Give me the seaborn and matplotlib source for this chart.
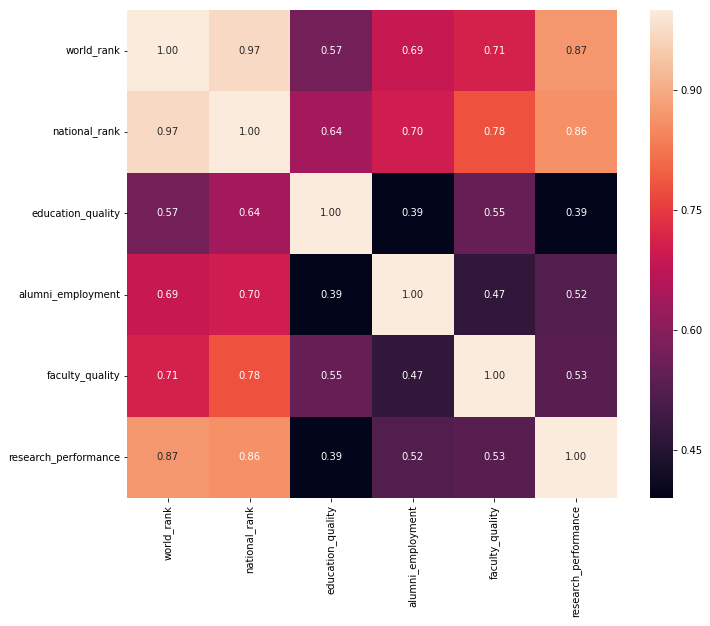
import matplotlib
matplotlib.use("Agg")
import matplotlib.pyplot as plt
import seaborn as sns
import pandas as pd

labels = ["world_rank", "national_rank", "education_quality",
          "alumni_employment", "faculty_quality", "research_performance"]
row_world = [1.00, 0.97, 0.57, 0.69, 0.71, 0.87]
row_national = [0.97, 1.00, 0.64, 0.70, 0.78, 0.86]
row_education = [0.57, 0.64, 1.00, 0.39, 0.55, 0.39]
row_alumni = [0.69, 0.70, 0.39, 1.00, 0.47, 0.52]
row_faculty = [0.71, 0.78, 0.55, 0.47, 1.00, 0.53]
row_research = [0.87, 0.86, 0.39, 0.52, 0.53, 1.00]
cbar_ticks = [0.45, 0.60, 0.75, 0.90]

corr = pd.DataFrame([row_world, row_national, row_education,
                     row_alumni, row_faculty, row_research],
                    index=labels, columns=labels)

plt.rcParams['font.family'] = ['DejaVu Sans']
plt.rcParams['font.size'] = 10
fig = plt.figure(figsize=(710 / 72, 626 / 72), dpi=72)
W, H = 710, 626
ax = fig.add_axes([127 / W, 1 - 498 / H, (617 - 127) / W, (498 - 10) / H])
cax = fig.add_axes([650 / W, 1 - 498 / H, 23 / W, (498 - 10) / H])

sns.heatmap(corr, annot=True, fmt=".2f", ax=ax, cbar_ax=cax,
            cmap=sns.color_palette("rocket", as_cmap=True),
            cbar_kws={"ticks": cbar_ticks, "format": "%.2f"})
ax.set_aspect("auto")
ax.tick_params(axis="x", rotation=90)
ax.tick_params(axis="y", rotation=0)
cax.tick_params(length=3.5)

fig.savefig("out.png", dpi=72)
